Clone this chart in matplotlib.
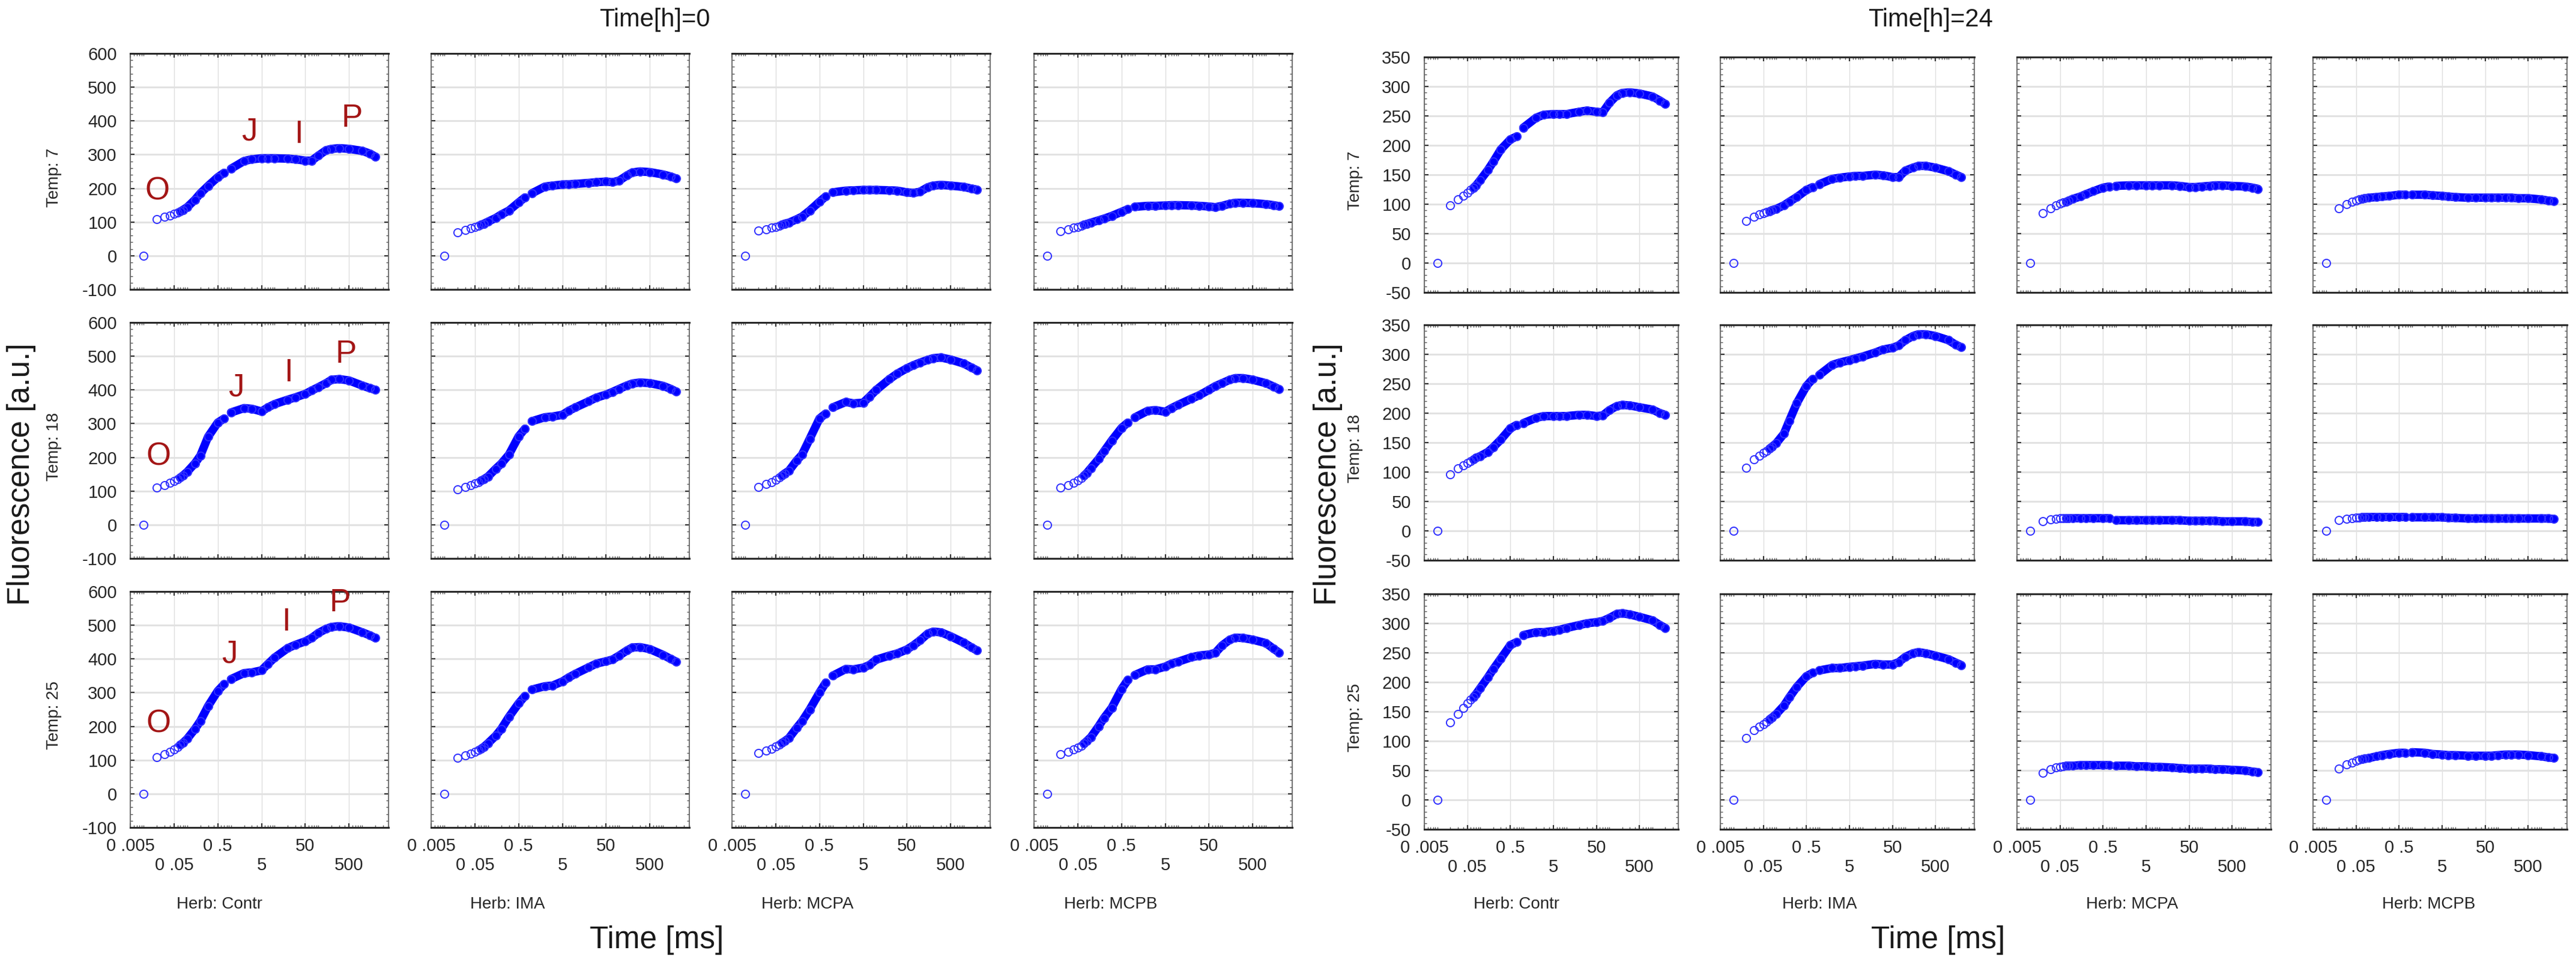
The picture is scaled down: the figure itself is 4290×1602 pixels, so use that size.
import numpy as np
import matplotlib
matplotlib.use("Agg")
import matplotlib.pyplot as plt
from matplotlib.ticker import FixedLocator, LogLocator, MultipleLocator, NullFormatter, FixedFormatter

plt.rcParams['font.family'] = ['Liberation Sans', 'DejaVu Sans']
plt.rcParams['axes.unicode_minus'] = False

# ---------------- data ----------------
herbs = ["Contr", "IMA", "MCPA", "MCPB"]
temps = ["7", "18", "25"]
time_ms = [0.01, 0.02, 0.03, 0.04, 0.05, 0.06, 0.07, 0.08, 0.1, 0.15, 0.2, 0.3, 0.5, 0.7,
           1, 2, 3, 5, 7, 10, 20, 30, 50, 70, 100, 150, 200, 300, 500, 1000, 1500, 2000]

# Time[h]=0
h0_t7_contr = [0, 108, 115, 119, 124, 128, 131, 136, 144, 166, 185, 207, 233, 246,
               258, 281, 286, 289, 289, 289, 288, 286, 282, 282, 297, 313, 317, 319, 317, 311, 303, 294]
h0_t7_ima = [0, 70, 77, 82, 86, 89, 92, 95, 101, 112, 122, 134, 158, 173,
             185, 205, 208, 211, 212, 213, 216, 218, 220, 218, 223, 238, 247, 250, 248, 241, 235, 229]
h0_t7_mcpa = [0, 74, 79, 83, 86, 89, 92, 95, 98, 108, 116, 134, 160, 176,
              188, 193, 194, 195, 195, 195, 194, 193, 188, 186, 190, 203, 208, 210, 208, 204, 199, 196]
h0_t7_mcpb = [0, 72, 78, 83, 86, 89, 92, 94, 98, 105, 110, 118, 130, 138,
              145, 148, 148, 149, 150, 150, 149, 148, 146, 144, 148, 154, 157, 157, 156, 153, 150, 147]

h0_t18_contr = [0, 110, 118, 124, 130, 135, 140, 146, 157, 182, 205, 261, 303, 315,
                333, 346, 344, 336, 348, 358, 371, 378, 388, 398, 408, 420, 430, 432, 428, 413, 405, 400]
h0_t18_ima = [0, 105, 112, 117, 122, 127, 131, 135, 143, 166, 181, 208, 262, 285,
              307, 319, 321, 326, 338, 348, 366, 377, 386, 394, 403, 413, 419, 422, 420, 412, 403, 395]
h0_t18_mcpa = [0, 112, 120, 127, 133, 140, 146, 152, 160, 190, 208, 255, 315, 330,
               348, 364, 360, 362, 380, 400, 432, 448, 464, 473, 481, 489, 494, 496, 490, 478, 466, 458]
h0_t18_mcpb = [0, 110, 118, 125, 132, 139, 146, 153, 168, 195, 218, 250, 287, 303,
               318, 338, 340, 335, 346, 356, 374, 384, 400, 411, 420, 430, 435, 435, 430, 420, 410, 402]

h0_t25_contr = [0, 109, 117, 124, 131, 138, 145, 151, 163, 192, 216, 260, 305, 325,
                340, 358, 360, 366, 385, 404, 432, 442, 452, 462, 477, 489, 495, 497, 493, 479, 470, 462]
h0_t25_ima = [0, 106, 113, 119, 124, 129, 134, 139, 150, 172, 192, 228, 268, 290,
              309, 319, 321, 333, 345, 356, 375, 386, 393, 398, 410, 425, 434, 435, 429, 412, 400, 392]
h0_t25_mcpa = [0, 121, 128, 134, 140, 146, 151, 156, 165, 195, 215, 250, 300, 330,
               350, 370, 369, 374, 382, 398, 410, 416, 428, 440, 455, 475, 481, 479, 467, 448, 434, 425]
h0_t25_mcpb = [0, 118, 125, 131, 137, 143, 149, 156, 168, 200, 225, 255, 310, 338,
               352, 369, 369, 377, 386, 392, 405, 410, 413, 418, 440, 457, 463, 462, 457, 447, 430, 419]

# Time[h]=24
h24_t7_contr = [0, 98, 108, 114, 119, 124, 128, 132, 141, 158, 172, 193, 210, 215,
                230, 247, 252, 253, 253, 253, 257, 259, 257, 256, 272, 285, 289, 290, 288, 283, 276, 270]
h24_t7_ima = [0, 71, 79, 83, 85, 87, 88, 90, 92, 98, 104, 112, 124, 129,
              134, 143, 145, 147, 148, 148, 150, 149, 146, 146, 157, 162, 165, 165, 162, 156, 150, 146]
h24_t7_mcpa = [0, 85, 93, 98, 101, 103, 104, 106, 109, 113, 117, 122, 128, 130,
               131, 132, 132, 132, 132, 132, 132, 131, 129, 129, 130, 131, 132, 132, 131, 130, 128, 126]
h24_t7_mcpb = [0, 93, 100, 104, 106, 108, 109, 110, 111, 112, 113, 114, 116, 116,
               116, 116, 115, 114, 113, 112, 111, 111, 111, 111, 111, 111, 111, 110, 110, 108, 106, 105]

h24_t18_contr = [0, 96, 106, 111, 115, 118, 121, 124, 127, 134, 142, 155, 174, 180,
                 183, 192, 195, 195, 195, 195, 197, 197, 195, 196, 205, 212, 214, 213, 210, 206, 200, 197]
h24_t18_ima = [0, 107, 121, 128, 133, 136, 140, 143, 149, 165, 187, 217, 246, 258,
               265, 282, 286, 290, 293, 296, 303, 308, 311, 315, 324, 331, 334, 334, 331, 324, 316, 312]
h24_t18_mcpa = [0, 16, 19, 20, 21, 21, 21, 21, 21, 21, 21, 21, 21, 21,
                18, 18, 18, 18, 18, 18, 18, 18, 17, 17, 17, 17, 17, 16, 16, 16, 15, 15]
h24_t18_mcpb = [0, 18, 20, 21, 22, 22, 23, 23, 23, 23, 23, 23, 23, 23,
                23, 23, 23, 23, 22, 22, 21, 21, 21, 21, 21, 21, 21, 21, 21, 21, 21, 20]

h24_t25_contr = [0, 132, 146, 156, 164, 170, 175, 180, 190, 208, 222, 240, 263, 268,
                 280, 285, 285, 287, 289, 292, 297, 300, 302, 304, 309, 316, 317, 315, 311, 305, 297, 292]
h24_t25_ima = [0, 105, 118, 124, 129, 133, 137, 140, 146, 160, 174, 192, 210, 216,
               220, 224, 224, 226, 227, 228, 231, 230, 230, 234, 243, 249, 251, 249, 245, 239, 233, 229]
h24_t25_mcpa = [0, 46, 52, 55, 56, 57, 58, 58, 58, 59, 59, 59, 59, 59,
                58, 58, 57, 57, 56, 56, 55, 54, 53, 53, 53, 53, 52, 52, 51, 50, 48, 47]
h24_t25_mcpb = [0, 53, 60, 63, 66, 68, 69, 70, 71, 74, 76, 78, 80, 80,
                81, 80, 78, 77, 76, 76, 75, 75, 75, 75, 76, 77, 77, 77, 76, 74, 72, 71]

block_h0 = [[h0_t7_contr, h0_t7_ima, h0_t7_mcpa, h0_t7_mcpb],
            [h0_t18_contr, h0_t18_ima, h0_t18_mcpa, h0_t18_mcpb],
            [h0_t25_contr, h0_t25_ima, h0_t25_mcpa, h0_t25_mcpb]]
block_h24 = [[h24_t7_contr, h24_t7_ima, h24_t7_mcpa, h24_t7_mcpb],
             [h24_t18_contr, h24_t18_ima, h24_t18_mcpa, h24_t18_mcpb],
             [h24_t25_contr, h24_t25_ima, h24_t25_mcpa, h24_t25_mcpb]]

x_ticks = [0.005, 0.05, 0.5, 5, 50, 500]
x_ticklabels = ["0 .005", "\n0 .05", "0 .5", "\n5", "50", "\n500"]

ojip_letters = ["O", "J", "I", "P"]

# ---------------- layout ----------------
W, H = 4290, 1602
DPI = 100
fig = plt.figure(figsize=(W / DPI, H / DPI), dpi=DPI)
fig.patch.set_facecolor("white")


def rect(x, y, w, h):
    return [x / W, 1 - (y + h) / H, w / W, h / H]


BLUE = "#0000ff"
LW = 10.0
MS = 9.5
MEW = 1.4
TICKFS = 21


def style_axes(ax, ylim, yminor, show_x, show_y, yticks):
    ax.set_xscale("log")
    ax.set_xlim(0.005, 4000)
    ax.set_ylim(*ylim)
    ax.xaxis.set_major_locator(FixedLocator(x_ticks))
    ax.xaxis.set_minor_locator(LogLocator(base=10, subs=(1, 2, 3, 4, 6, 7, 8, 9), numticks=30))
    ax.xaxis.set_minor_formatter(NullFormatter())
    if show_x:
        ax.xaxis.set_major_formatter(FixedFormatter(x_ticklabels))
    else:
        ax.xaxis.set_major_formatter(NullFormatter())
    ax.yaxis.set_major_locator(FixedLocator(yticks))
    ax.yaxis.set_minor_locator(MultipleLocator(yminor))
    if not show_y:
        ax.yaxis.set_major_formatter(NullFormatter())
    ax.set_axisbelow(True)
    ax.grid(True, which="major", axis="y", color="#e2e2e2", lw=2.2)
    ax.grid(True, which="major", axis="x", color="#dedede", lw=1.0)
    for side in ("top", "bottom"):
        ax.spines[side].set_color("#2a2a2a")
        ax.spines[side].set_linewidth(2.2)
    for side in ("left", "right"):
        ax.spines[side].set_color("#666666")
        ax.spines[side].set_linewidth(1.3)
    ax.tick_params(which="major", direction="in", length=5, width=1.5, colors="#333333",
                   top=True, right=True, labelsize=TICKFS, labelcolor="#262626")
    ax.tick_params(which="minor", direction="in", length=3, width=1.0, colors="#555555",
                   top=True, right=True)
    ax.tick_params(axis="y", pad=16)
    ax.tick_params(axis="x", pad=12)


def draw_curve(ax, vals):
    t = np.array(time_ms, dtype=float)
    v = np.array(vals, dtype=float)
    seg1 = (t >= 0.07) & (t <= 0.7)
    seg2 = t >= 1
    for seg in (seg1, seg2):
        ax.plot(t[seg], v[seg], "-", color=BLUE, lw=LW, solid_capstyle="round",
                solid_joinstyle="round", zorder=3)
    ax.plot(t, v, "o", mfc="none", mec="#3030ff", ms=MS, mew=MEW, zorder=4)


blocks = [
    dict(data=block_h0, cols=[217, 718, 1219, 1722], w=430, rows=[89, 537, 985], h=393,
         ylim=(-100, 600), yticks=list(range(-100, 601, 100)), yminor=20,
         title="Time[h]=0", title_x=1090, temp_x=90, fl_x=36,
         herb_x=[366, 845, 1345, 1850], time_x=1094),
    dict(data=block_h24, cols=[2372, 2865, 3359, 3852], w=423, rows=[95, 541, 989], h=392,
         ylim=(-50, 350), yticks=list(range(-50, 351, 50)), yminor=10,
         title="Time[h]=24", title_x=3215, temp_x=2257, fl_x=2212,
         herb_x=[2525, 3030, 3551, 4045], time_x=3228),
]

ojip_pos = [[(0.021, 192), (2.6, 368), (35, 360), (580, 408)],
            [(0.022, 202), (1.3, 407), (21, 450), (430, 505)],
            [(0.022, 207), (0.92, 413), (18, 509), (310, 566)]]

for bi, b in enumerate(blocks):
    for r in range(3):
        for c in range(4):
            ax = fig.add_axes(rect(b["cols"][c], b["rows"][r], b["w"], b["h"]))
            style_axes(ax, b["ylim"], b["yminor"], show_x=(r == 2), show_y=(c == 0),
                       yticks=b["yticks"])
            draw_curve(ax, b["data"][r][c])
            if bi == 0 and c == 0:
                for letter, (xx, yy) in zip(ojip_letters, ojip_pos[r]):
                    ax.text(xx, yy, letter, color="#a31515", fontsize=38, ha="center",
                            va="center", zorder=5)
        yc = b["rows"][r] + b["h"] / 2 + 10
        fig.text(b["temp_x"] / W, 1 - yc / H, "Temp: " + temps[r], rotation=90,
                 ha="center", va="center", fontsize=20, color="#262626")
    for c in range(4):
        fig.text(b["herb_x"][c] / W, 1 - 1506 / H, "Herb: " + herbs[c], ha="center",
                 va="center", fontsize=20, color="#262626")
    fig.text(b["title_x"] / W, 1 - 33 / H, b["title"], ha="center", va="center",
             fontsize=30, color="#1a1a1a")
    fig.text(b["fl_x"] / W, 1 - 790 / H, "Fluorescence [a.u.]", rotation=90, ha="center",
             va="center", fontsize=37, color="#1a1a1a")
    fig.text(b["time_x"] / W, 1 - 1566 / H, "Time [ms]", ha="center", va="center",
             fontsize=37, color="#1a1a1a")

fig.savefig("out.png", dpi=DPI, facecolor="white")
